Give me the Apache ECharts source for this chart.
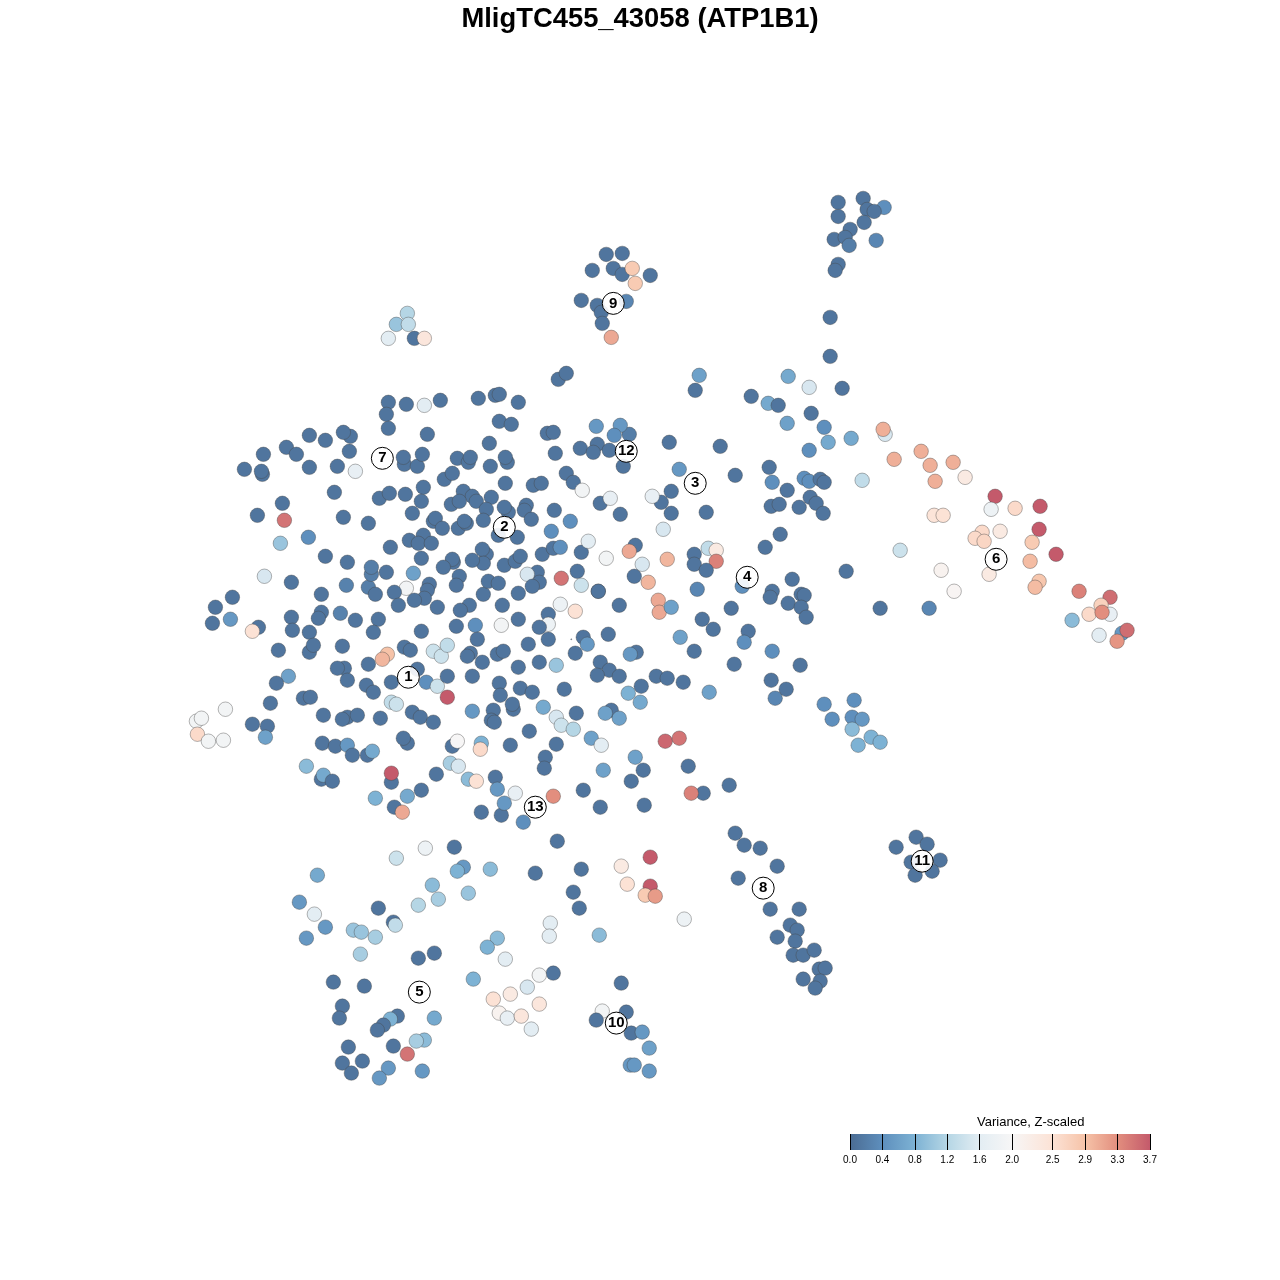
<!DOCTYPE html>
<html><head><meta charset="utf-8">
<style>html,body{margin:0;padding:0;background:#fff}#c{width:1280px;height:1280px}</style>
<script src="https://cdn.jsdelivr.net/npm/echarts@6/dist/echarts.min.js"></script>
</head><body><div id="c"></div>
<script>
const chartTitle = "MligTC455_43058 (ATP1B1)";
const legendTitle = "Variance, Z-scaled";
const colorbarTicks = [0,0.4,0.8,1.2,1.6,2.0,2.5,2.9,3.3,3.7];
const colorbarColors = ["#4b6c93","#5e8fbd","#7db2d4","#b5d6e5","#e3edf3","#f7f6f6","#fce2d5","#f6c3a8","#e28e7e","#c45a6b"];
const clusterIds = [1,2,3,4,5,6,7,8,9,10,11,12,13];
const clusterX = [408,504,695,747,419,996,382,763,613,616,922,626,535];
const clusterY = [677,527,483,577,992,559,458,888,303,1023,861,451,807];
// [tSNE x, tSNE y, variance]
const topCells = [[863,198,.1],[838,202,.1],[884,207,.4],[867,209,.1],[874,211,.1],[838,216,.1],[864,222,.1],[850,229,.1],[834,239,.1],[845,237,.1],[876,240,.3],[849,245,.2],[838,264,.1],[835,270,.1],
[606,254,.1],[622,253,.1],[613,268,.1],[592,270,.1],[622,274,.1],[632,268,2.8],[650,275,.1],[635,283,2.8],[581,300,.1],[597,305,.1],[626,301,.3],[601,312,.1],[602,323,.1],[611,337,3.1],
[407,313,1.2],[396,324,1],[408,324,1.3],[388,338,1.6],[414,338,.1],[424,338,2.4],
[830,317,.1],[830,356,.1],[842,388,.1],[699,375,.6],[695,390,.1],[788,376,.7],[809,387,1.5],[751,396,.1],[768,403,.7],[778,405,.1],[811,413,.1],[787,423,.6],[824,427,.4],[828,442,.7],[851,438,.7],[809,450,.4],[558,379,.1],[566,373,.1]];
const rightCells = [[885,434,1.5],[883,429,3.05],[894,459,3.05],[921,451,3.05],[930,465,3.05],[953,462,3.05],[935,481,3.05],[965,477,2.3],[862,480,1.3],[995,496,3.7],[991,509,1.8],[1015,508,2.6],[1040,506,3.7],[934,515,2.45],[943,515,2.5],[1039,529,3.7],[982,532,2.6],[975,538,2.6],[984,541,2.65],[1000,531,2.3],[1032,542,2.8],[1056,554,3.7],[900,550,1.4],[1030,561,2.95],[941,570,2.1],[989,574,2.3],[1039,581,2.85],[1035,587,2.95],[954,591,2.05],[1079,591,3.4],[1110,597,3.55],[1101,605,2.7],[1089,614,2.6],[1110,614,1.7],[1102,612,3.3],[1072,620,.9],[1122,633,.5],[1127,630,3.55],[1099,635,1.6],[1117,641,3.25],[880,608,.1],[929,608,.3],[846,571,.1],
[769,467,.1],[772,482,.4],[787,490,.1],[804,478,.4],[809,481,.4],[820,479,.1],[824,482,.1],[771,506,.1],[779,504,.1],[799,507,.1],[810,497,.1],[816,503,.1],[823,513,.1],[780,534,.1],[765,547,.1],[735,475,.1],[720,446,.1],[669,442,.1],[679,469,.5],[706,512,.1],[671,513,.1],[671,491,.1],[661,502,.1],[652,496,1.7],[663,529,1.5],[635,545,.1],[629,551,3.1],[642,564,1.5],[667,559,3],[694,554,.1],[708,548,1.3],[716,550,2.3],[716,561,3.4],[694,564,.1],[706,570,.1],[742,586,.4],[772,591,.1],[770,597,.1],[792,579,.1],[801,594,.1],[804,595,.1],[788,603,.1],[801,607,.1],[806,617,.1],[731,608,.1],[702,619,.1],[713,629,.1],[748,631,.1],[744,642,.4],[680,637,.6],[694,651,.1],[734,664,.1],[772,651,.4],[800,665,.1],[771,680,.1],[786,689,.1],[775,698,.3],[709,692,.6],[697,589,.3],[634,576,.1],[648,582,3],[658,600,3.1],[659,612,3.1],[671,607,.6],[619,605,.1],[598,591,.1],
[824,704,.4],[854,700,.4],[852,717,.4],[832,719,.4],[862,719,.5],[852,729,.9],[871,737,.8],[858,745,.8],[880,742,.8]];
const upperLeftCells = [[388,402,.1],[406,404,.1],[424,405,1.6],[440,400,.1],[386,414,.1],[388,428,.1],[427,434,.1],[478,398,.1],[495,395,.1],[499,394,.1],[518,402,.1],[499,421,.1],[511,424,.1],[489,443,.1],[547,433,.1],[553,432,.1],[580,448,.1],[596,426,.5],[629,434,.2],[620,425,.5],[614,435,.4],[597,444,.1],[593,452,.1],[609,450,.1],
[309,435,.1],[325,440,.1],[350,436,.1],[343,432,.1],[349,451,.1],[286,447,.1],[263,454,.1],[296,454,.1],[244,469,.1],[262,474,.1],[261,471,.1],[309,467,.1],[337,466,.1],[355,471,1.7],[404,464,.1],[403,457,.1],[417,466,.1],[422,454,.1],[457,458,.1],[468,462,.1],[470,457,.1],[490,466,.1],[507,462,.1],[505,457,.1],[444,479,.1],[452,473,.1],[505,483,.1],[533,485,.1],[541,483,.1],[555,453,.1],[566,473,.1],[573,482,.1],[582,490,1.9],[623,466,.1],[600,503,.1],[610,498,1.7],[620,514,.1],
[334,492,.1],[282,503,.1],[257,515,.1],[284,520,3.5],[343,517,.1],[368,523,.1],[308,537,.4],[280,543,1],
[379,498,.1],[389,493,.1],[405,494,.1],[423,487,.1],[421,501,.1],[412,513,.1],[451,504,.1],[463,491,.1],[472,496,.1],[476,501,.1],[459,501,.1],[491,497,.1],[486,509,.1],[508,512,.1],[504,507,.1],[526,505,.1],[524,510,.1],[554,510,.1],[570,521,.4],[433,521,.1],[435,518,.1],[442,528,.1],[458,528,.1],[466,523,.1],[464,521,.1],[483,520,.1],[531,519,.1],[551,531,.4],[498,535,.1],[517,537,.1],[423,535,.1],[409,540,.1],[418,543,.1],[431,543,.1],[390,547,.1],[486,554,.1],[482,549,.1],[483,563,.1],[472,560,.1],[421,558,.1],[453,562,.1],[452,559,.1],[443,567,.1],[504,565,.1],[515,561,.1],[520,556,.1],[542,554,.1],[553,548,.1],[560,547,.4],[581,552,.1],[588,541,1.6],[606,558,1.9]];
const midCells = [[325,556,.1],[347,562,.1],[264,576,1.5],[291,582,.1],[346,585,.25],[321,594,.1],[368,587,.2],[232,597,.1],[215,607,.1],[212,623,.1],[230,619,.5],[258,627,.1],[252,631,2.5],[291,617,.1],[292,630,.1],[321,612,.1],[340,613,.25],[318,618,.1],[355,620,.1],[309,632,.1],[278,650,.1],[309,652,.1],[313,645,.1],[342,646,.1],
[371,574,.2],[371,567,.2],[386,572,.1],[413,573,.6],[406,588,1.9],[429,584,.1],[427,590,.1],[424,598,.1],[414,600,.1],[394,592,.1],[375,594,.1],[398,605,.1],[437,607,.1],[459,576,.1],[456,585,.1],[483,594,.1],[488,581,.1],[498,583,.1],[537,572,.1],[539,582,.1],[527,574,1.5],[532,586,.1],[518,593,.1],[561,578,3.5],[577,571,.1],[581,585,1.4],[598,591,.1],[502,605,.1],[560,604,1.8],[575,611,2.5],[469,605,.1],[460,610,.1],[548,614,.1],[548,624,1.8],[539,627,.1],[518,619,.1],[501,625,1.9],[475,625,.4],[456,626,.1],[421,631,.1],[378,619,.1],[373,632,.1],[583,637,.1],[608,634,.1],
[368,664,.1],[344,668,.1],[337,668,.1],[347,680,.1],[288,676,.6],[276,683,.1],[303,698,.1],[310,697,.1],[270,703,.1],[366,685,.1],
[404,647,.1],[410,650,.1],[387,654,2.9],[382,659,3],[433,651,1.4],[441,656,1.4],[447,645,1.3],[477,639,.1],[470,653,.1],[467,656,.1],[482,662,.1],[497,654,.1],[503,651,.1],[528,644,.1],[548,639,.1],[587,644,.5],[575,653,.1],[518,667,.1],[539,662,.1],[556,665,1],[600,662,.1],[609,670,.1],[597,675,.1],[619,676,.1],[636,652,.1],[630,654,.5],[641,686,.1],[628,693,.8],[640,702,.7],[656,676,.1],[667,678,.1],[683,682,.1],[417,669,.1],[426,682,.4],[437,686,1.4],[447,676,.1],[472,676,.1],[447,697,3.7],[391,682,.1],[373,692,.1],[499,683,.1],[500,695,.1],[520,688,.1],[532,692,.1],[564,689,.1],[391,702,1.3],[396,704,1.4],[412,712,.1],[420,717,.1],[433,722,.1],[380,718,.1],[472,711,.5],[493,710,.1],[491,720,.1],[494,722,.1],[513,709,.1],[512,704,.1],[543,707,.7],[556,717,1.5],[561,725,1.4],[573,729,1.2],[576,713,.1],[611,710,.1],[605,713,.6],[619,718,.6]];
const lowerMidCells = [[323,715,.1],[347,717,.1],[342,719,.1],[357,715,.1],[252,724,.1],[267,726,.1],[265,737,.6],[225,709,1.9],[196,721,1.9],[201,718,1.9],[197,734,2.6],[208,741,1.9],[223,740,1.9],
[322,743,.1],[335,746,.1],[347,745,.5],[352,755,.1],[367,755,.1],[372,751,.7],[407,743,.1],[403,738,.1],[452,746,.1],[457,741,2],[481,743,.8],[480,749,2.6],[510,745,.1],[529,731,.1],[556,744,.1],[591,738,.6],[601,745,1.6],[665,741,3.6],[679,738,3.5],[545,757,.1],[544,768,.1],[635,757,.6],[643,770,.1],[631,781,.1],[603,770,.6],[688,766,.1],[729,785,.1],[703,793,.1],[691,793,3.4],
[306,766,.9],[321,779,.1],[323,775,.7],[332,781,.1],[391,782,.1],[391,773,3.7],[436,774,.1],[450,763,1.1],[458,766,1.5],[468,779,.9],[476,781,2.5],[495,777,.1],[497,789,.5],[515,793,1.7],[553,796,3.3],[583,790,.1],[375,798,.8],[407,796,.7],[421,790,.1],[394,807,.1],[402,812,3.1],[481,812,.1],[501,815,.1],[504,803,.5],[523,822,.4],[600,807,.1],[644,805,.1],[571,639,.1]];
const bottomCells = [[557,841,.1],[454,847,.1],[425,848,1.8],[396,858,1.4],[463,867,.5],[457,871,.8],[490,869,.9],[535,873,.1],[581,869,.1],[621,866,2.3],[650,857,3.7],[627,884,2.5],[650,886,3.7],[645,895,2.8],[655,896,3.2],[573,892,.1],[579,908,.1],[684,919,1.8],[317,875,.7],[432,885,.9],[438,899,1.1],[468,893,1],[418,905,1.2],[299,902,.5],[314,914,1.6],[378,908,.1],[393,922,.1],[395,925,1.3],[325,927,.5],[353,930,1],[361,932,1],[375,937,1.1],[306,938,.5],[360,954,1.1],[550,923,1.6],[549,936,1.6],[599,935,.9],[497,938,.9],[487,947,.8],[434,953,.1],[418,958,.1],[505,959,1.6],[553,973,.1],[539,975,1.9],[473,979,.8],[527,987,1.5],[510,994,2.3],[493,999,2.5],[539,1004,2.4],[499,1013,2.1],[507,1018,1.7],[521,1016,2.4],[531,1029,1.6],[333,982,.1],[364,986,.1],[342,1006,.1],[339,1018,.1],[397,1016,.1],[390,1019,.8],[383,1025,.1],[377,1030,.1],[434,1018,.7],[621,983,.1],[626,1012,.1],[602,1011,1.9],[596,1020,.1],[631,1033,.1],[642,1032,.5],[424,1040,.9],[416,1041,1.1],[393,1046,.1],[407,1054,3.5],[348,1047,.1],[342,1063,.1],[362,1061,.1],[351,1073,.1],[388,1068,.5],[379,1078,.5],[422,1071,.5],[649,1048,.6],[630,1065,.5],[634,1065,.5],[649,1071,.5],
[735,833,.1],[744,845,.1],[760,848,.1],[777,866,.1],[738,878,.1],[770,909,.1],[799,909,.1],[777,937,.1],[790,925,.1],[797,930,.1],[795,941,.1],[793,955,.1],[803,955,.1],[814,950,.1],[819,969,.1],[825,968,.1],[803,979,.1],[820,981,.1],[815,988,.1],
[916,837,.1],[927,844,.1],[896,847,.1],[911,862,.1],[940,860,.1],[915,875,.1],[932,871,.1]];

const cells = [...topCells,...rightCells,...upperLeftCells,...midCells,...lowerMidCells,...bottomCells];
function hex(c){return [1,3,5].map(i=>parseInt(c.substr(i,2),16));}
function tone(v){
  for(let i=1;i<colorbarTicks.length;i++){
    if(v<=colorbarTicks[i]){
      const t=(v-colorbarTicks[i-1])/(colorbarTicks[i]-colorbarTicks[i-1]);
      const a=hex(colorbarColors[i-1]),b=hex(colorbarColors[i]);
      return `rgb(${a.map((x,k)=>Math.round(x+(b[k]-x)*t)).join(",")})`;
    }
  }
  return colorbarColors[colorbarColors.length-1];
}
const chart = echarts.init(document.getElementById('c'),null,{renderer:'canvas'});
const span = colorbarTicks[colorbarTicks.length-1];
chart.setOption({
  animation:false,
  backgroundColor:'#fff',
  title:[
    {text:chartTitle,left:'center',top:1,textStyle:{fontFamily:'Liberation Sans',fontSize:27.4,fontWeight:'bold',color:'#000'}},
    {text:legendTitle,left:972,top:1111,textStyle:{fontFamily:'Liberation Sans',fontSize:13,fontWeight:'normal',color:'#000'}}
  ],
  grid:[
    {left:0.5,top:0.5,width:1280,height:1280},
    {left:850,top:1134,width:300,height:16}
  ],
  xAxis:[
    {gridIndex:0,type:'value',min:0,max:1280,show:false},
    {gridIndex:1,type:'value',min:0,max:span,position:'bottom',z:10,splitLine:{show:false},
     axisLine:{show:false},
     axisTick:{show:true,inside:true,length:16,customValues:colorbarTicks,lineStyle:{color:'#000',width:1}},
     axisLabel:{show:true,margin:5,fontFamily:'Liberation Sans',fontSize:10,color:'#000',customValues:colorbarTicks,
       showMinLabel:true,showMaxLabel:true,formatter:v=>Number(v).toFixed(1)}}
  ],
  yAxis:[
    {gridIndex:0,type:'value',min:0,max:1280,inverse:true,show:false},
    {gridIndex:1,type:'value',min:0,max:1,show:false}
  ],
  series:[
    {type:'scatter',xAxisIndex:0,yAxisIndex:0,data:cells,symbolSize:d=>d[0]===571&&d[1]===639?1:14.5,silent:true,
     itemStyle:{color:p=>tone(p.data[2]),borderColor:'rgba(70,70,70,0.4)',borderWidth:1,opacity:1}},
    {type:'scatter',xAxisIndex:0,yAxisIndex:0,z:5,data:clusterIds.map((id,i)=>[clusterX[i],clusterY[i],id]),symbolSize:22,silent:true,
     itemStyle:{color:'rgba(255,255,255,0.9)',borderColor:'#000',borderWidth:1,opacity:1},
     label:{show:true,position:'inside',formatter:p=>String(p.data[2]),fontFamily:'Liberation Sans',fontSize:15,fontWeight:'bold',color:'#000',opacity:1,textBorderWidth:0}},
    {type:'custom',xAxisIndex:1,yAxisIndex:1,z:1,data:[[0,0]],silent:true,
     renderItem:(params,api)=>{
       const a=api.coord([0,1]),b=api.coord([span,0]);
       const stops=colorbarTicks.map((t,i)=>({offset:t/span,color:colorbarColors[i]}));
       return {type:'rect',shape:{x:a[0],y:a[1],width:b[0]-a[0],height:b[1]-a[1]},
         style:{fill:new echarts.graphic.LinearGradient(0,0,1,0,stops)}};
     }}
  ]
});
</script></body></html>
